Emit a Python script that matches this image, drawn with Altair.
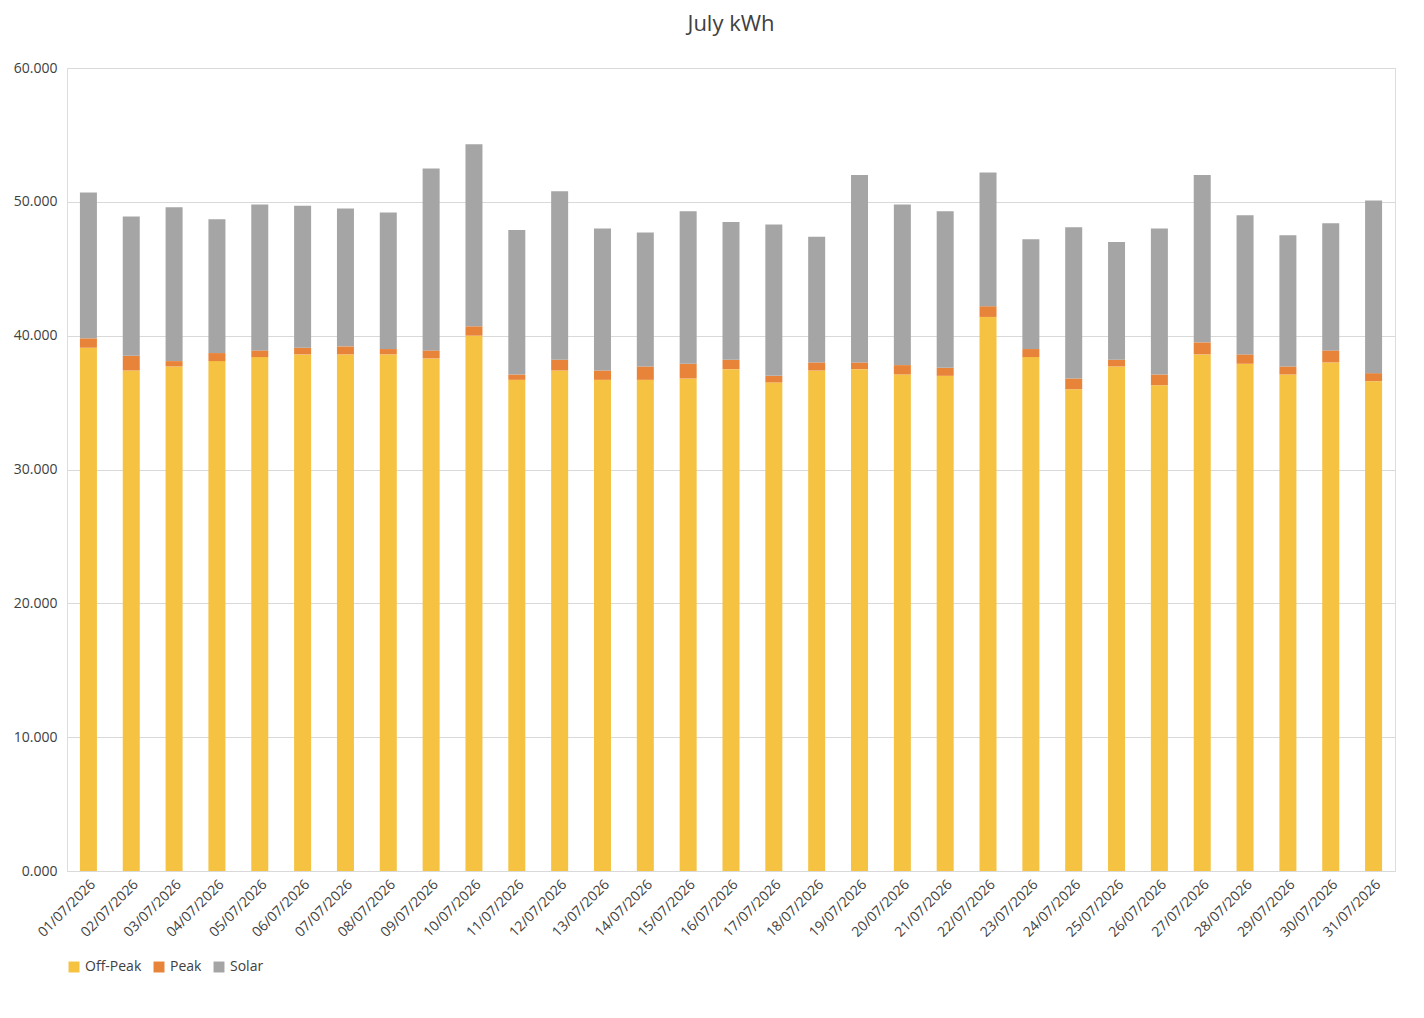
import altair as alt
import pandas as pd

dates = [f"{d:02d}/07/2026" for d in range(1, 32)]
off_peak = [39.1, 37.4, 37.7, 38.1, 38.4, 38.6, 38.6, 38.6, 38.3, 40.0,
            36.7, 37.4, 36.7, 36.7, 36.8, 37.5, 36.5, 37.4, 37.5, 37.1,
            37.0, 41.4, 38.4, 36.0, 37.7, 36.3, 38.6, 37.9, 37.1, 38.0, 36.6]
peak_top = [39.8, 38.5, 38.1, 38.7, 38.9, 39.1, 39.2, 39.0, 38.9, 40.7,
            37.1, 38.2, 37.4, 37.7, 37.9, 38.2, 37.0, 38.0, 38.0, 37.8,
            37.6, 42.2, 39.0, 36.8, 38.2, 37.1, 39.5, 38.6, 37.7, 38.9, 37.2]
total = [50.7, 48.9, 49.6, 48.7, 49.8, 49.7, 49.5, 49.2, 52.5, 54.3,
         47.9, 50.8, 48.0, 47.7, 49.3, 48.5, 48.3, 47.4, 52.0, 49.8,
         49.3, 52.2, 47.2, 48.1, 47.0, 48.0, 52.0, 49.0, 47.5, 48.4, 50.1]

series = ["Off-Peak", "Peak", "Solar"]
colors = ["#f5c242", "#e8833a", "#a5a5a5"]

rows = []
for d, o, p, t in zip(dates, off_peak, peak_top, total):
    rows.append(dict(date=d, series="Off-Peak", value=o, order=0))
    rows.append(dict(date=d, series="Peak", value=round(p - o, 3), order=1))
    rows.append(dict(date=d, series="Solar", value=round(t - p, 3), order=2))
df = pd.DataFrame(rows)

chart = (
    alt.Chart(df)
    .mark_bar(size=17)
    .encode(
        x=alt.X("date:N", sort=dates, title=None,
                axis=alt.Axis(labelAngle=-45, labelFontSize=14, labelColor="#404040",
                              domainColor="#d9d9d9", ticks=False, labelPadding=6)),
        y=alt.Y("sum(value):Q", title=None, stack="zero",
                scale=alt.Scale(domain=[0, 60]),
                axis=alt.Axis(values=[0, 10, 20, 30, 40, 50, 60], format=".3f",
                              labelFontSize=14, labelColor="#404040", domain=False,
                              ticks=False, gridColor="#d9d9d9", labelPadding=10)),
        color=alt.Color("series:N", sort=series,
                        scale=alt.Scale(domain=series, range=colors),
                        legend=alt.Legend(title=None, orient="bottom", direction="horizontal",
                                          labelFontSize=14, labelColor="#404040",
                                          symbolType="square", symbolSize=120, offset=20)),
        order=alt.Order("order:Q", sort="ascending"),
    )
    .properties(
        width=1328, height=803,
        title=alt.TitleParams("July kWh", fontSize=22, fontWeight="normal",
                              color="#404040", offset=25),
    )
    .configure_view(stroke=None)
    .configure(font="Open Sans")
)

chart.save("out.html", embed_options={"renderer": "svg", "actions": False})
